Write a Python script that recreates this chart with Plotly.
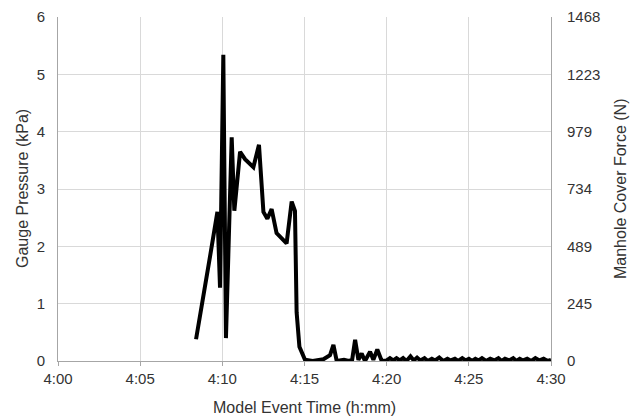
import plotly.graph_objects as go

# Minutes after 4:00
time_min = [8.4, 8.75, 9.25, 9.7, 9.86, 10.06, 10.22, 10.57, 10.73, 11.08, 11.38, 11.89,
            12.23, 12.5, 12.74, 13.0, 13.3, 13.91, 14.22, 14.42, 14.52, 14.69, 15.03,
            15.5, 16.15, 16.55, 16.76, 16.96, 17.2, 17.4, 17.7, 17.9, 18.08, 18.28, 18.48,
            18.68, 18.99, 19.19, 19.43, 19.7,
            20.0, 20.2, 20.4, 20.6, 20.8, 21.0, 21.2, 21.45, 21.65, 21.85, 22.05, 22.3,
            22.5, 22.75, 22.95, 23.2, 23.45, 23.7, 23.9, 24.15, 24.35, 24.6, 24.8, 25.0,
            25.2, 25.4, 25.6, 25.8, 26.05, 26.3, 26.55, 26.8, 27.0, 27.2, 27.45, 27.7,
            27.9, 28.1, 28.3, 28.55, 28.8, 29.05, 29.3, 29.55, 29.8, 30.0]
pressure_kpa = [0.38, 0.95, 1.82, 2.6, 1.28, 5.34, 0.40, 3.9, 2.62, 3.65, 3.52, 3.38,
                3.77, 2.6, 2.48, 2.65, 2.23, 2.05, 2.78, 2.62, 0.85, 0.25, 0.02,
                0.0, 0.03, 0.1, 0.28, 0.0, 0.02, 0.02, 0.0, 0.02, 0.37, 0.02, 0.13,
                0.0, 0.16, 0.02, 0.2, 0.0,
                0.01, 0.05, 0.01, 0.05, 0.01, 0.05, 0.0, 0.08, 0.01, 0.06, 0.01, 0.05,
                0.0, 0.04, 0.01, 0.06, 0.0, 0.04, 0.01, 0.04, 0.0, 0.05, 0.01, 0.04,
                0.0, 0.04, 0.01, 0.05, 0.0, 0.04, 0.01, 0.05, 0.0, 0.04, 0.01, 0.05,
                0.0, 0.04, 0.01, 0.04, 0.0, 0.05, 0.01, 0.04, 0.0, 0.02]

x_tickvals = [0, 5, 10, 15, 20, 25, 30]
x_ticktext = ["4:00", "4:05", "4:10", "4:15", "4:20", "4:25", "4:30"]
y_tickvals = [0, 1, 2, 3, 4, 5, 6]
force_tickvals = [0, 245, 489, 734, 979, 1223, 1468]
KPA_TO_N = 1468 / 6.0

x_title = "Model Event Time (h:mm)"
y_title = "Gauge Pressure (kPa)"
y2_title = "Manhole Cover Force (N)"

font_main = "Liberation Sans, Arial, sans-serif"
tick_color = "#333333"
FS = 15
TFS = 16

fig = go.Figure()
fig.add_trace(go.Scatter(
    x=time_min, y=pressure_kpa, mode="lines",
    line=dict(color="black", width=4),
    showlegend=False,
))
fig.add_trace(go.Scatter(
    x=time_min, y=[p * KPA_TO_N for p in pressure_kpa], mode="lines",
    line=dict(color="rgba(0,0,0,0)", width=0),
    yaxis="y2", showlegend=False, hoverinfo="skip",
))

fig.update_layout(
    width=637, height=416,
    margin=dict(l=58, r=86, t=17, b=55, autoexpand=False),
    paper_bgcolor="white", plot_bgcolor="white",
    font=dict(family=font_main, size=FS, color=tick_color),
    xaxis=dict(
        range=[0, 30], tickvals=x_tickvals, ticktext=x_ticktext,
        showgrid=True, gridcolor="#d9d9d9", gridwidth=1,
        showline=True, linecolor="#a6a6a6", linewidth=1,
        ticks="outside", ticklen=4, tickcolor="#a6a6a6",
        zeroline=False, automargin=False,
        tickfont=dict(size=FS, color=tick_color),
    ),
    yaxis=dict(
        range=[0, 6], tickvals=y_tickvals,
        showgrid=True, gridcolor="#d9d9d9", gridwidth=1,
        showline=True, linecolor="#a6a6a6", linewidth=1,
        zeroline=False, ticks="outside", ticklen=9, tickcolor="rgba(0,0,0,0)",
        automargin=False,
        tickfont=dict(size=FS, color=tick_color),
    ),
    yaxis2=dict(
        range=[0, 1468], tickvals=force_tickvals,
        overlaying="y", side="right",
        showgrid=False, showline=True, linecolor="#a6a6a6", linewidth=1,
        zeroline=False, ticks="outside", ticklen=12, tickcolor="rgba(0,0,0,0)",
        automargin=False,
        tickfont=dict(size=FS, color=tick_color),
    ),
    annotations=[
        dict(text=x_title, xref="paper", yref="paper", x=0.5, y=-0.134,
             xanchor="center", yanchor="middle", showarrow=False,
             font=dict(size=TFS, color=tick_color)),
        dict(text=y_title, xref="paper", yref="paper", x=-0.073, y=0.5,
             xanchor="center", yanchor="middle", showarrow=False, textangle=-90,
             font=dict(size=TFS, color=tick_color)),
        dict(text=y2_title, xref="paper", yref="paper", x=1.14, y=0.5,
             xanchor="center", yanchor="middle", showarrow=False, textangle=-90,
             font=dict(size=TFS, color=tick_color)),
    ],
)

fig.write_html("out.html")
